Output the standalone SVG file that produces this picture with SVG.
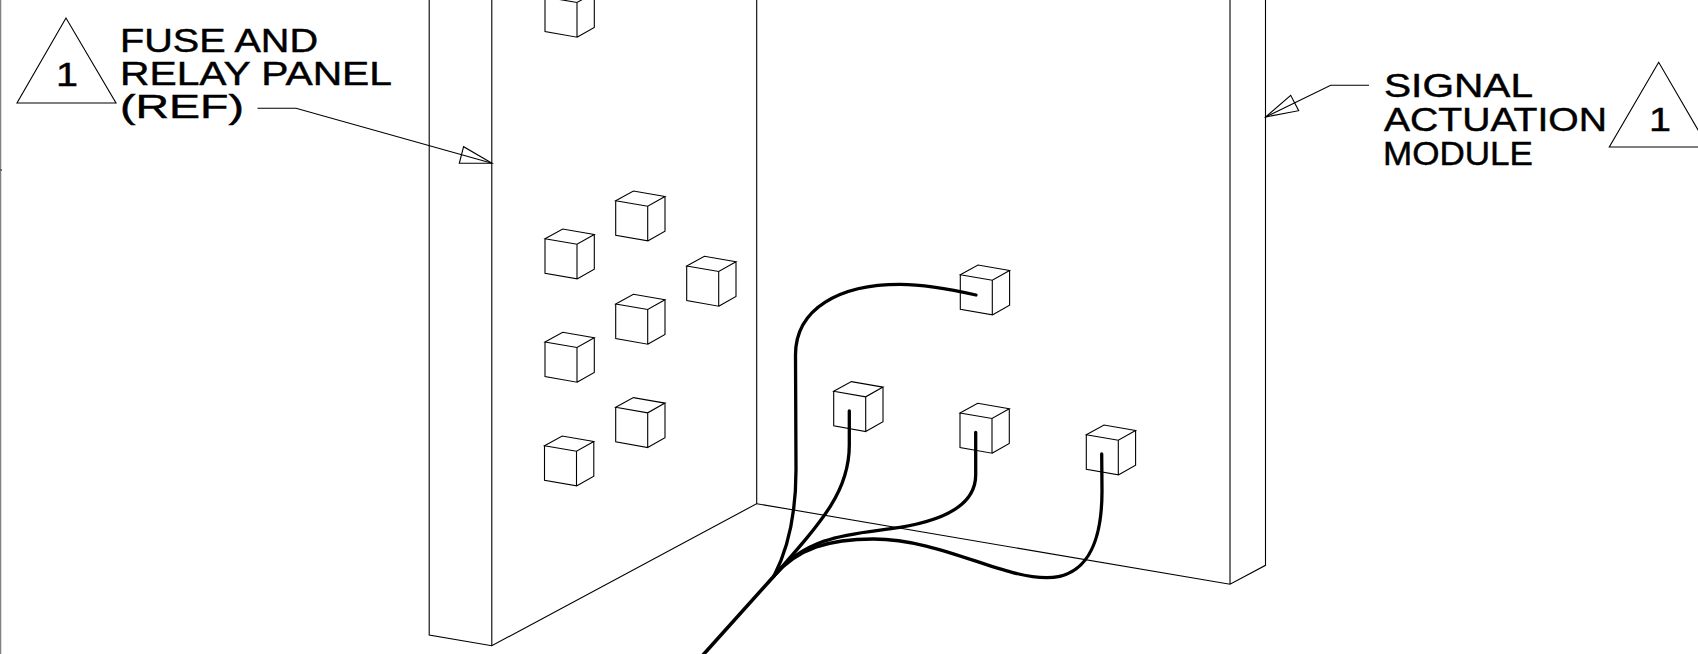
<svg xmlns="http://www.w3.org/2000/svg" width="1698" height="654" viewBox="0 0 1698 654">
<style>
.l{fill:none;stroke:#000;stroke-width:1.1}
.w{fill:none;stroke:#000;stroke-width:3.3;stroke-linecap:round}
.t{font-family:"Liberation Sans",Arial,sans-serif;font-size:32.5px;fill:#000;stroke:#000;stroke-width:0.45}
</style>
<defs>
<g id="cube"><path class="l" d="M0,0 L17.7,-9.7 L49.3,-4.2 L32,5.5 Z M0,0 V34.6 L32,40.2 V5.5 M32,40.2 L49.3,30.5 V-4.2"/></g>
</defs>
<rect width="1698" height="654" fill="#fff"/>
<g id="frame-edge"><path d="M0.5,0 V654" fill="none" stroke="#808080" stroke-width="1.5"/><path d="M0,170 H2" fill="none" stroke="#555" stroke-width="1.5"/></g>
<g id="fuse-relay-panel">
<path class="l" d="M429.2,0 V635 L491.8,645.7 L756.7,503.7 V0 M491.8,645.7 V0"/>
</g>
<g id="signal-actuation-module">
<path class="l" d="M756.7,503.7 L1230,584.3 L1265.5,565.3 V0 M1230,584.3 V0"/>
</g>
<g id="cube-1"><use href="#cube" x="545" y="-3"/></g>
<g id="cube-2"><use href="#cube" x="545" y="238.7"/></g>
<g id="cube-3"><use href="#cube" x="615.7" y="200.7"/></g>
<g id="cube-4"><use href="#cube" x="686.7" y="266"/></g>
<g id="cube-5"><use href="#cube" x="615.7" y="304"/></g>
<g id="cube-6"><use href="#cube" x="545" y="342"/></g>
<g id="cube-7"><use href="#cube" x="615.7" y="407.3"/></g>
<g id="cube-8"><use href="#cube" x="544.5" y="445.7"/></g>
<g id="cube-9"><use href="#cube" x="960.3" y="274.7"/></g>
<g id="cube-10"><use href="#cube" x="833.7" y="391.3"/></g>
<g id="cube-11"><use href="#cube" x="960" y="413"/></g>
<g id="cube-12"><use href="#cube" x="1086.3" y="434.7"/></g>
<g id="callout-left">
<path class="l" d="M66,18 L17,103 H116 Z"/>
<text class="t" x="56" y="86" textLength="22" lengthAdjust="spacingAndGlyphs">1</text>
<text class="t" x="120" y="51.7" textLength="198" lengthAdjust="spacingAndGlyphs">FUSE AND</text>
<text class="t" x="120" y="85" textLength="272" lengthAdjust="spacingAndGlyphs">RELAY PANEL</text>
<text class="t" x="120" y="118.3" textLength="124" lengthAdjust="spacingAndGlyphs">(REF)</text>
</g>
<g id="callout-right">
<path class="l" d="M1658.7,62.3 L1609.3,147 H1708 Z"/>
<text class="t" x="1649" y="130.7" textLength="22" lengthAdjust="spacingAndGlyphs">1</text>
<text class="t" x="1384" y="96.7" textLength="149" lengthAdjust="spacingAndGlyphs">SIGNAL</text>
<text class="t" x="1384" y="130.7" textLength="223" lengthAdjust="spacingAndGlyphs">ACTUATION</text>
<text class="t" x="1383" y="164.7" textLength="150" lengthAdjust="spacingAndGlyphs">MODULE</text>
</g>
<g id="connectors">
<path class="l" d="M257.5,108.3 H296 L492,163.3"/>
<path class="l" d="M492,163.3 L463.6,146.7 L459.3,163.3 Z"/>
<path class="l" d="M1369,85.3 H1330.7 L1265.7,117"/>
<path class="l" d="M1265.7,117 L1290.7,95.3 L1298.7,110.7 Z"/>
<path class="w" d="M976,295 C950,289 925,284.3 900,284.3 C840,284.3 795.5,308 795.5,355 L796,470 C796,510 790,545 774,576"/>
<path class="w" d="M849.3,411 L849.3,445 C849.3,490 825,518 774,576"/>
<path class="w" d="M975.7,432.3 L975.7,475 C975.7,505 945,520 900,527.3 C860,534 810,532 774,576"/>
<path class="w" d="M1101.7,454 L1102,491 C1102,545 1085,577.7 1046.7,577.7 C1000,577.7 940,539 873.3,539 C830,539 798,548 774,576"/>
<path class="w" d="M703,655 L774,576" style="stroke-width:3.6"/>
</g>
</svg>
